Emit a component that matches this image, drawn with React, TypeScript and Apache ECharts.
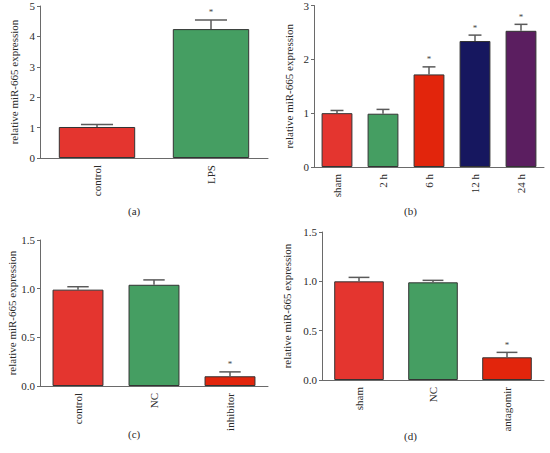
import React, { useEffect, useRef } from "react";
import * as echarts from "echarts";

const catsA = ["control", "LPS"];
const valsA = [1.02, 4.24];
const errA = [0.08, 0.3];
const sigA = [0, 1];

const catsB = ["sham", "2 h", "6 h", "12 h", "24 h"];
const valsB = [1.0, 0.99, 1.72, 2.34, 2.53];
const errB = [0.05, 0.08, 0.14, 0.11, 0.12];
const sigB = [0, 0, 1, 1, 1];

const catsC = ["control", "NC", "inhibitor"];
const valsC = [0.99, 1.04, 0.1];
const errC = [0.03, 0.05, 0.045];
const sigC = [0, 0, 1];

const catsD = ["sham", "NC", "antagomir"];
const valsD = [1.0, 0.99, 0.23];
const errD = [0.04, 0.02, 0.05];
const sigD = [0, 0, 1];

const RED = "#e4352f";
const GREEN = "#459e62";
const ORANGE = "#e2250c";
const NAVY = "#16175f";
const PURPLE = "#5b1e60";

const colorsA = [RED, GREEN];
const colorsB = [RED, GREEN, ORANGE, NAVY, PURPLE];
const colorsC = [RED, GREEN, ORANGE];
const colorsD = [RED, GREEN, ORANGE];

const FONT = "Liberation Serif";
const AXIS_COLOR = "#6a6a6a";
const TEXT_COLOR = "#2a2a2a";
const FS = 11;

const panels = [
  { cats: catsA, vals: valsA, errs: errA, sig: sigA, colors: colorsA, max: 5, interval: 1, dec: 0,
    grid: { left: 40, top: 6, width: 228, height: 152 }, nameGap: 21, label: "(a)", lx: 136, ly: 212 },
  { cats: catsB, vals: valsB, errs: errB, sig: sigB, colors: colorsB, max: 3, interval: 1, dec: 0,
    grid: { left: 314, top: 4, width: 230, height: 163 }, nameGap: 20, label: "(b)", lx: 412, ly: 212 },
  { cats: catsC, vals: valsC, errs: errC, sig: sigC, colors: colorsC, max: 1.5, interval: 0.5, dec: 1,
    grid: { left: 40, top: 240, width: 228, height: 146 }, nameGap: 22, label: "(c)", lx: 136, ly: 435 },
  { cats: catsD, vals: valsD, errs: errD, sig: sigD, colors: colorsD, max: 1.5, interval: 0.5, dec: 1,
    grid: { left: 322, top: 232, width: 222, height: 148 }, nameGap: 30, label: "(d)", lx: 412, ly: 437 },
];

const BAR_RATIO = 0.67;

export default function App() {
  const ref = useRef<HTMLDivElement>(null);
  useEffect(() => {
    if (!ref.current) return;
    const chart = echarts.init(ref.current, null, { renderer: "svg" });
    const grids: any[] = [];
    const xAxes: any[] = [];
    const yAxes: any[] = [];
    const series: any[] = [];
    const graphics: any[] = [];
    panels.forEach((p, i) => {
      grids.push({ ...p.grid, containLabel: false });
      xAxes.push({
        type: "category",
        gridIndex: i,
        data: p.cats,
        axisLine: { lineStyle: { color: AXIS_COLOR, width: 1 } },
        axisTick: { alignWithLabel: true, length: 3, lineStyle: { color: AXIS_COLOR } },
        axisLabel: { rotate: 90, margin: 7, fontSize: FS, color: TEXT_COLOR, fontFamily: FONT },
      });
      yAxes.push({
        type: "value",
        gridIndex: i,
        min: 0,
        max: p.max,
        interval: p.interval,
        name: "relative miR-665 expression",
        nameLocation: "middle",
        nameGap: p.nameGap,
        nameRotate: 90,
        nameTextStyle: { fontSize: FS, color: TEXT_COLOR, fontFamily: FONT },
        axisLine: { show: true, lineStyle: { color: AXIS_COLOR, width: 1 } },
        axisTick: { show: true, length: 3, lineStyle: { color: AXIS_COLOR } },
        splitLine: { show: false },
        axisLabel: {
          fontSize: FS,
          color: TEXT_COLOR,
          fontFamily: FONT,
          margin: 5,
          formatter: (v: number) => v.toFixed(p.dec),
        },
      });
      series.push({
        type: "bar",
        xAxisIndex: i,
        yAxisIndex: i,
        barWidth: BAR_RATIO * 100 + "%",
        data: p.vals.map((v, k) => ({
          value: v,
          itemStyle: { color: p.colors[k], borderColor: "#333", borderWidth: 1 },
        })),
      });
      series.push({
        type: "custom",
        xAxisIndex: i,
        yAxisIndex: i,
        z: 5,
        data: p.vals.map((v, k) => [k, v, p.errs[k], p.sig[k]]),
        renderItem: (params: any, api: any) => {
          const x = api.value(0);
          const v = api.value(1);
          const e = api.value(2);
          const s = api.value(3);
          const top = api.coord([x, v]);
          const hi = api.coord([x, v + e]);
          const band = api.size([1, 0])[0];
          const half = (band * BAR_RATIO * 0.42) / 2;
          const children: any[] = [
            { type: "line", shape: { x1: top[0], y1: top[1], x2: hi[0], y2: hi[1] },
              style: { stroke: "#5a5a5a", lineWidth: 1.5 } },
            { type: "line", shape: { x1: hi[0] - half, y1: hi[1], x2: hi[0] + half, y2: hi[1] },
              style: { stroke: "#5a5a5a", lineWidth: 1.5 } },
          ];
          if (s) {
            children.push({
              type: "text",
              x: hi[0],
              y: hi[1] - 3,
              style: { text: "*", fontSize: 9, fontFamily: FONT, fill: "#444",
                align: "center", verticalAlign: "bottom" },
            });
          }
          return { type: "group", children };
        },
      });
      graphics.push({
        type: "text",
        left: p.lx - 8,
        top: p.ly - 7,
        style: { text: p.label, fontSize: FS, fontFamily: FONT, fill: TEXT_COLOR },
      });
    });
    chart.setOption({
      animation: false,
      backgroundColor: "#ffffff",
      grid: grids,
      xAxis: xAxes,
      yAxis: yAxes,
      series,
      graphic: graphics,
    });
    return () => chart.dispose();
  }, []);
  return (
    <div
      ref={ref}
      style={{ position: "fixed", left: 0, top: 0, width: 550, height: 453 }}
    />
  );
}
